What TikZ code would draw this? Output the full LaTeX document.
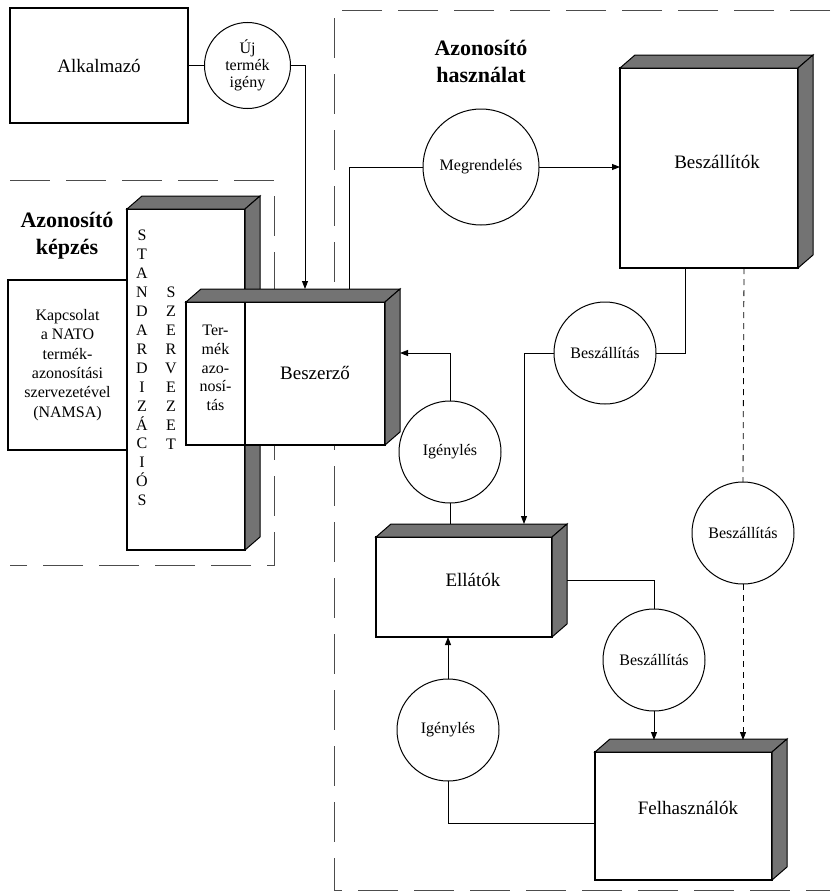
\documentclass[tikz,border=0pt]{standalone}
\usepackage{fontspec}
\setmainfont{Liberation Serif}
\usetikzlibrary{arrows.meta,calc}
\newcommand{\fs}[2]{\fontsize{#1}{#2}\selectfont}
\newcommand{\cubefaces}[1]{%
  \filldraw[face] (#1.north west) -- ++(15,-13) -- ($(#1.north east)+(15,-13)$) -- (#1.north east) -- cycle;
  \filldraw[face] (#1.north east) -- ++(15,-13) -- ($(#1.south east)+(15,-13)$) -- (#1.south east) -- cycle;}
\begin{document}
\begin{tikzpicture}[x=1pt,y=-1pt,
  every node/.style={inner sep=0pt, outer sep=0pt},
  plainbox/.style={draw, line width=1.1pt, fill=white, anchor=north west},
  face/.style={fill=black!55, draw=black, line width=1pt},
  bubble/.style={draw, circle, line width=1pt, fill=white, align=center, font=\fs{16}{17}},
  conn/.style={line width=0.9pt},
  arr/.style={conn, -{Triangle[length=8pt,width=6pt]}},
  region/.style={line width=1pt, draw=black!70, dash pattern=on 40pt off 16pt},
  dline/.style={line width=0.8pt, dash pattern=on 6pt off 5pt},
  lbl/.style={font=\fs{19}{23}},
  small/.style={font=\fs{16}{19.4}, align=center},
  head/.style={font=\bfseries\fs{22}{27}, align=center},
]
\useasboundingbox (0,0) rectangle (830,894);

% dashed regions
\draw[region] (10,180) -- (274,180) -- (274,565) -- (10,565);
\draw[region] (830,10) -- (334,10) -- (334,890) -- (830,890);

% region headings
\node[head] (hk) at (67,236) {Azonosító\\képzés};
\node[head] (hh) at (481,61) {Azonosító\\használat};

% Alkalmazó
\node[plainbox, minimum width=178pt, minimum height=115pt, lbl] (alk) at (10,8) {Alkalmazó};

% STANDARDIZÁCIÓS box
\node[plainbox, minimum width=118pt, minimum height=341pt] (std) at (127,209) {};
\cubefaces{std}
\node[font=\fs{16}{18.93}, align=center] (stdt) at (142,368) {S\\T\\A\\N\\D\\A\\R\\D\\I\\Z\\Á\\C\\I\\Ó\\S};
\node[font=\fs{16}{19}, align=center] (szt) at (171,368) {S\\Z\\E\\R\\V\\E\\Z\\E\\T};

% Kapcsolat box
\node[plainbox, minimum width=119pt, minimum height=170pt, small] (kap) at (8,280)
  {Kapcsolat\\a NATO\\termék-\\azonosítási\\szervezetével\\(NAMSA)};

% Beszerző
\node[plainbox, minimum width=199pt, minimum height=143pt] (bsz) at (186,302) {};
\cubefaces{bsz}
\draw[line width=1.1pt] (bsz.north west -| std.east) -- (bsz.south west -| std.east);
\node[font=\fs{16}{18.8}, align=center] (tat) at (215.5,368) {Ter-\\mék\\azo-\\nosí-\\tás};
\node[lbl] (bszt) at (315,373) {Beszerző};

% Beszállítók
\node[plainbox, minimum width=178pt, minimum height=200pt] (bsl) at (620,68) {};
\cubefaces{bsl}
\node[lbl] (bslt) at (717,162) {Beszállítók};

% Ellátók
\node[plainbox, minimum width=176pt, minimum height=100pt] (ell) at (376,537) {};
\cubefaces{ell}
\node[lbl] (ellt) at (473,580) {Ellátók};

% Felhasználók
\node[plainbox, minimum width=177pt, minimum height=128pt] (fel) at (595,752) {};
\cubefaces{fel}
\node[lbl] (felt) at (688,808) {Felhasználók};

% circles
\node[bubble, minimum size=86pt] (ujc) at (247.5,65.5) {Új\\termék\\igény};
\node[bubble, minimum size=116pt] (megr) at (481,167) {Megrendelés};
\node[bubble, minimum size=102pt] (besz1) at (605,353) {Beszállítás};
\node[bubble, minimum size=102pt] (ige1) at (450,452) {Igénylés};
\node[bubble, minimum size=102pt] (besz3) at (743,533) {Beszállítás};
\node[bubble, minimum size=102pt] (besz2) at (654,660) {Beszállítás};
\node[bubble, minimum size=102pt] (ige2) at (448,730) {Igénylés};

% connection points
\coordinate (bszA) at (305,289);
\coordinate (bszB) at (349,289);
\coordinate (bszR) at (400,353);
\coordinate (bslB) at (685,268);
\coordinate (bslD) at (744,268);
\coordinate (ellA) at (524,524);
\coordinate (ellB) at (450,524);
\coordinate (ellR) at (567,580);
\coordinate (ellS) at (448,637);
\coordinate (felA) at (654,740);
\coordinate (felB) at (743,740);
\coordinate (felL) at (595,823);

% connectors
\draw[conn] (alk.east) -- (ujc.west);
\draw[arr] (ujc.east) -| (bszA);
\draw[conn] (megr.west) -| (bszB);
\draw[arr] (megr.east) -- (megr.east -| bsl.west);
\draw[conn] (besz1.east) -| (bslB);
\draw[arr] (besz1.west) -| (ellA);
\draw[arr] (ige1.north) |- (bszR);
\draw[conn] (ige1.south) -- (ellB);
\draw[conn] (ellR) -| (besz2.north);
\draw[arr] (besz2.south) -- (felA);
\draw[dline] (bslD) -- (besz3.north);
\draw[dline, -{Triangle[length=8pt,width=6pt]}] (besz3.south) -- (felB);
\draw[arr] (ige2.north) -- (ellS);
\draw[conn] (ige2.south) |- (felL);
\end{tikzpicture}
\end{document}
